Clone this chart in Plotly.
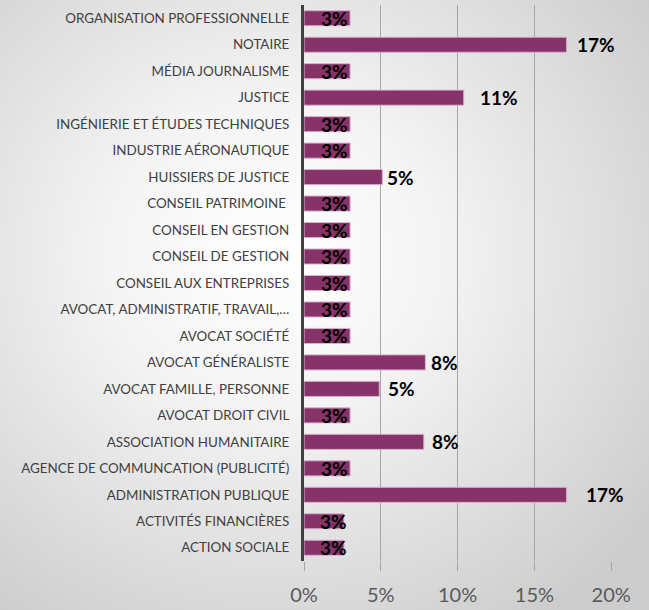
import base64
import plotly.graph_objects as go

# ---- data (top to bottom) ----
categories = [
    "ORGANISATION PROFESSIONNELLE",
    "NOTAIRE",
    "MÉDIA JOURNALISME",
    "JUSTICE",
    "INGÉNIERIE ET ÉTUDES TECHNIQUES",
    "INDUSTRIE AÉRONAUTIQUE",
    "HUISSIERS DE JUSTICE",
    "CONSEIL PATRIMOINE ",
    "CONSEIL EN GESTION",
    "CONSEIL DE GESTION",
    "CONSEIL AUX ENTREPRISES",
    "AVOCAT, ADMINISTRATIF, TRAVAIL,…",
    "AVOCAT SOCIÉTÉ",
    "AVOCAT GÉNÉRALISTE",
    "AVOCAT FAMILLE, PERSONNE",
    "AVOCAT DROIT CIVIL",
    "ASSOCIATION HUMANITAIRE",
    "AGENCE DE COMMUNCATION (PUBLICITÉ)",
    "ADMINISTRATION PUBLIQUE",
    "ACTIVITÉS FINANCIÈRES",
    "ACTION SOCIALE",
]
values = [0.030, 0.171, 0.030, 0.104, 0.030, 0.030, 0.051, 0.030, 0.030, 0.030,
          0.030, 0.030, 0.030, 0.079, 0.049, 0.030, 0.078, 0.030, 0.171, 0.026, 0.026]
value_labels = ["3%", "17%", "3%", "11%", "3%", "3%", "5%", "3%", "3%", "3%",
                "3%", "3%", "3%", "8%", "5%", "3%", "8%", "3%", "17%", "3%", "3%"]
x_tickvals = [0, 0.05, 0.10, 0.15, 0.20]
x_ticktext = ["0%", "5%", "10%", "15%", "20%"]

# ---- label placement styles ----
label_anchor = ["right", "left", "right", "left", "right", "right", "left", "right", "right", "right",
                "right", "right", "right", "left", "left", "right", "left", "right", "left", "right", "right"]
label_shift = [0, 8, 0, 14, 0, 0, 3, 0, 0, 0, 0, 0, 0, 4, 7, 0, 6, 0, 17, 5, 5]

W, H = 649, 610
ML, MR, MT, MB = 304, 37, 5, 49
PW, PH = W - ML - MR, H - MT - MB

svg = f'''<svg xmlns="http://www.w3.org/2000/svg" width="{W}" height="{H}" viewBox="0 0 {W} {H}" preserveAspectRatio="none">
<defs><radialGradient id="g" cx="0.42" cy="0.42" r="0.72" gradientUnits="objectBoundingBox">
<stop offset="0" stop-color="#ffffff"/><stop offset="0.35" stop-color="#f4f4f4"/><stop offset="1" stop-color="#cdcdcd"/>
</radialGradient></defs><rect width="{W}" height="{H}" fill="url(#g)"/></svg>'''
bg_uri = "data:image/svg+xml;base64," + base64.b64encode(svg.encode()).decode()

FONT = "Lato, 'Liberation Sans', sans-serif"

fig = go.Figure()
fig.add_trace(go.Bar(
    x=values, y=categories, orientation="h",
    marker=dict(color="#86336A", line=dict(color="#d9b3cc", width=1)),
    hoverinfo="skip",
))

for cat, v, lab, anc, sh in zip(categories, values, value_labels, label_anchor, label_shift):
    fig.add_annotation(x=v, y=cat, text=f"<b>{lab}</b>", showarrow=False,
                       xanchor=anc, xshift=sh,
                       font=dict(family=FONT, size=19, color="#000000"))

fig.add_layout_image(dict(
    source=bg_uri, xref="paper", yref="paper",
    x=-ML / PW, y=1 + MT / PH, sizex=W / PW, sizey=H / PH,
    xanchor="left", yanchor="top", sizing="stretch", layer="below",
))

fig.update_layout(
    width=W, height=H,
    margin=dict(l=ML, r=MR, t=MT, b=MB, pad=0, autoexpand=False),
    paper_bgcolor="#e6e6e6", plot_bgcolor="rgba(0,0,0,0)",
    showlegend=False, bargap=0.43,
    xaxis=dict(range=[0, 0.2005], tickvals=x_tickvals, ticktext=x_ticktext,
               showgrid=True, gridcolor="#a6a6a6", gridwidth=1, zeroline=False,
               ticks="outside", ticklen=9, tickcolor="#a6a6a6", tickwidth=1,
               ticklabelstandoff=7,
               tickfont=dict(family=FONT, size=20, color="#595959"),
               showline=False, fixedrange=True, automargin=False),
    yaxis=dict(categoryorder="array", categoryarray=categories[::-1],
               range=[-0.5, len(categories) - 0.5],
               showline=True, linecolor="#404040", linewidth=3,
               ticks="outside", ticklen=9, tickcolor="rgba(0,0,0,0)",
               tickfont=dict(family=FONT, size=13.4, color="#404040"),
               showgrid=False, zeroline=False, fixedrange=True, automargin=False),
)

fig.write_html("out.html", config={"displayModeBar": False},
               post_script="document.body.style.margin='0';document.body.style.overflow='hidden';")
